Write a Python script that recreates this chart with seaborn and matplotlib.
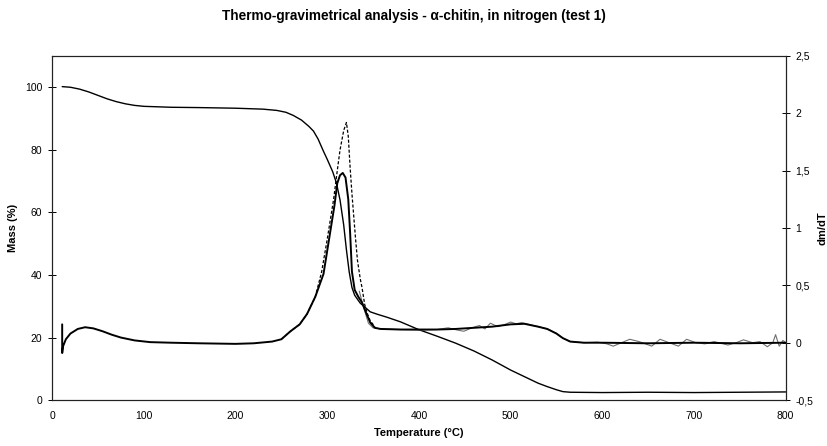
import matplotlib
matplotlib.use("Agg")
import matplotlib.pyplot as plt
import seaborn as sns
import pandas as pd
from matplotlib.ticker import FuncFormatter

# ---------------- data ----------------
mass_temp = [11, 20, 30, 40, 50, 60, 70, 80, 90, 100, 130, 160, 200, 230, 245, 255, 263, 272,
             280, 285, 290, 296, 300, 306, 310, 314, 318, 321, 324, 327, 330, 336, 340, 347,
             355, 365, 380, 400, 420, 440, 460, 480, 500, 520, 530, 540, 550, 557, 565, 600,
             650, 700, 750, 800]
mass_pct = [100.2, 100.0, 99.4, 98.5, 97.4, 96.3, 95.4, 94.7, 94.2, 93.9, 93.6, 93.5, 93.3,
            93.0, 92.6, 92.0, 91.0, 89.5, 87.5, 86.0, 83.5, 79.5, 77.0, 73.0, 69.5, 64.0,
            56.0, 48.0, 41.0, 36.0, 33.5, 31.0, 30.0, 28.2, 27.4, 26.5, 25.0, 22.5, 20.4,
            18.2, 15.7, 12.8, 9.6, 6.8, 5.4, 4.3, 3.3, 2.7, 2.5, 2.4, 2.5, 2.4, 2.5, 2.6]

dtg_temp = [11, 11, 12, 15, 20, 28, 36, 45, 55, 65, 75, 90, 107, 130, 160, 200, 220, 240, 250,
            260, 270, 278, 287, 296, 303, 308, 311, 314, 317, 320, 323, 325, 327, 330, 334,
            338, 343, 347, 352, 358, 380, 400, 420, 440, 460, 480, 500, 515, 530, 540, 550,
            557, 565, 580, 600, 650, 700, 750, 800]
dtg_smooth = [0.16, -0.09, -0.03, 0.03, 0.08, 0.12, 0.135, 0.125, 0.10, 0.07, 0.045, 0.02,
              0.005, 0.0, -0.005, -0.01, -0.005, 0.01, 0.03, 0.10, 0.16, 0.25, 0.40, 0.60,
              0.95, 1.20, 1.39, 1.46, 1.48, 1.44, 1.25, 0.96, 0.62, 0.46, 0.40, 0.35, 0.25,
              0.175, 0.13, 0.12, 0.115, 0.115, 0.115, 0.12, 0.13, 0.14, 0.16, 0.165, 0.14,
              0.12, 0.08, 0.04, 0.01, 0.0, 0.0, -0.005, 0.0, -0.005, 0.0]

dtg2_temp = [250, 260, 270, 278, 287, 294, 300, 304, 307, 311, 314, 318, 321, 323, 325, 327,
             329, 331, 333, 336, 338, 341, 344, 347, 352]
dtg2_val = [0.03, 0.10, 0.16, 0.25, 0.40, 0.62, 0.90, 1.10, 1.25, 1.50, 1.68, 1.85, 1.92,
            1.80, 1.53, 1.30, 1.10, 0.90, 0.72, 0.56, 0.48, 0.33, 0.25, 0.19, 0.14]

raw_temp = [335, 340, 345, 350, 360, 380, 400, 420, 432, 442, 449, 458, 466, 472, 478, 486,
            494, 500, 506, 512, 520, 530, 540, 550, 557, 565, 580, 595, 605, 612, 621, 630,
            640, 647, 654, 663, 673, 683, 692, 702, 712, 722, 737, 746, 754, 764, 772, 780,
            786, 789, 793, 797, 800]
raw_val = [0.45, 0.30, 0.17, 0.13, 0.12, 0.115, 0.11, 0.115, 0.13, 0.11, 0.10, 0.13, 0.15,
           0.12, 0.17, 0.14, 0.16, 0.18, 0.165, 0.175, 0.16, 0.14, 0.12, 0.08, 0.04, 0.01,
           0.0, 0.005, -0.01, -0.03, 0.0, 0.03, 0.01, -0.01, -0.03, 0.03, 0.0, -0.03, 0.03,
           0.0, -0.01, 0.01, -0.02, 0.0, 0.025, 0.0, 0.01, -0.035, 0.0, 0.07, -0.03, 0.02, 0.0]

x_ticks = [0, 100, 200, 300, 400, 500, 600, 700, 800]
left_ticks = [0, 20, 40, 60, 80, 100]
right_ticks = [-0.5, 0, 0.5, 1, 1.5, 2, 2.5]

title = "Thermo-gravimetrical analysis - \u03b1-chitin, in nitrogen (test 1)"

# ---------------- plotting ----------------
sns.set_theme(style="white")
plt.rcParams["font.family"] = ["Liberation Sans", "DejaVu Sans"]
plt.rcParams["text.color"] = "black"
plt.rcParams["axes.labelcolor"] = "black"

fig = plt.figure(figsize=(8.27, 4.46), dpi=100)
ax = fig.add_axes([0.063, 0.103, 0.887, 0.7715])
ax2 = ax.twinx()

mass_df = pd.DataFrame({"T": mass_temp, "m": mass_pct})
dtg_df = pd.DataFrame({"T": dtg_temp, "d": dtg_smooth})
dtg2_df = pd.DataFrame({"T": dtg2_temp, "d": dtg2_val})
raw_df = pd.DataFrame({"T": raw_temp, "d": raw_val})

sns.lineplot(data=mass_df, x="T", y="m", ax=ax, color="black", linewidth=1.0,
             estimator=None, sort=False)
sns.lineplot(data=raw_df, x="T", y="d", ax=ax2, color="#6e6e6e", linewidth=0.8,
             estimator=None, sort=False)
sns.lineplot(data=dtg_df, x="T", y="d", ax=ax2, color="black", linewidth=1.4,
             estimator=None, sort=False)
sns.lineplot(data=dtg2_df, x="T", y="d", ax=ax2, color="black", linewidth=0.9,
             estimator=None, sort=False, linestyle=(0, (2.5, 1.5)))

ax.set_xlim(0, 800)
ax.set_ylim(0, 110)
ax2.set_ylim(-0.5, 2.5)
ax.set_xticks(x_ticks)
ax.set_yticks(left_ticks)
ax2.set_yticks(right_ticks)

comma = FuncFormatter(lambda v, p: ("%g" % v).replace(".", ","))
ax2.yaxis.set_major_formatter(comma)

for a in (ax, ax2):
    for s in a.spines.values():
        s.set_color("#222222")
        s.set_linewidth(0.8)
    a.tick_params(direction="inout", length=6, width=0.7, colors="black",
                  labelsize=7.5, pad=4)
ax.tick_params(axis="x", pad=5)

ax.set_xlabel("Temperature (\u00b0C)", fontsize=8, fontweight="bold", labelpad=5, color="black")
ax.set_ylabel("Mass (%)", fontsize=8, fontweight="bold", labelpad=5, color="black")
ax2.set_ylabel("dm/dT", fontsize=8, fontweight="bold", labelpad=3, color="black")
fig.text(0.5, 0.965, title, ha="center", va="center", fontsize=9.8, fontweight="bold",
         color="black")

fig.savefig("out.png", dpi=100)
